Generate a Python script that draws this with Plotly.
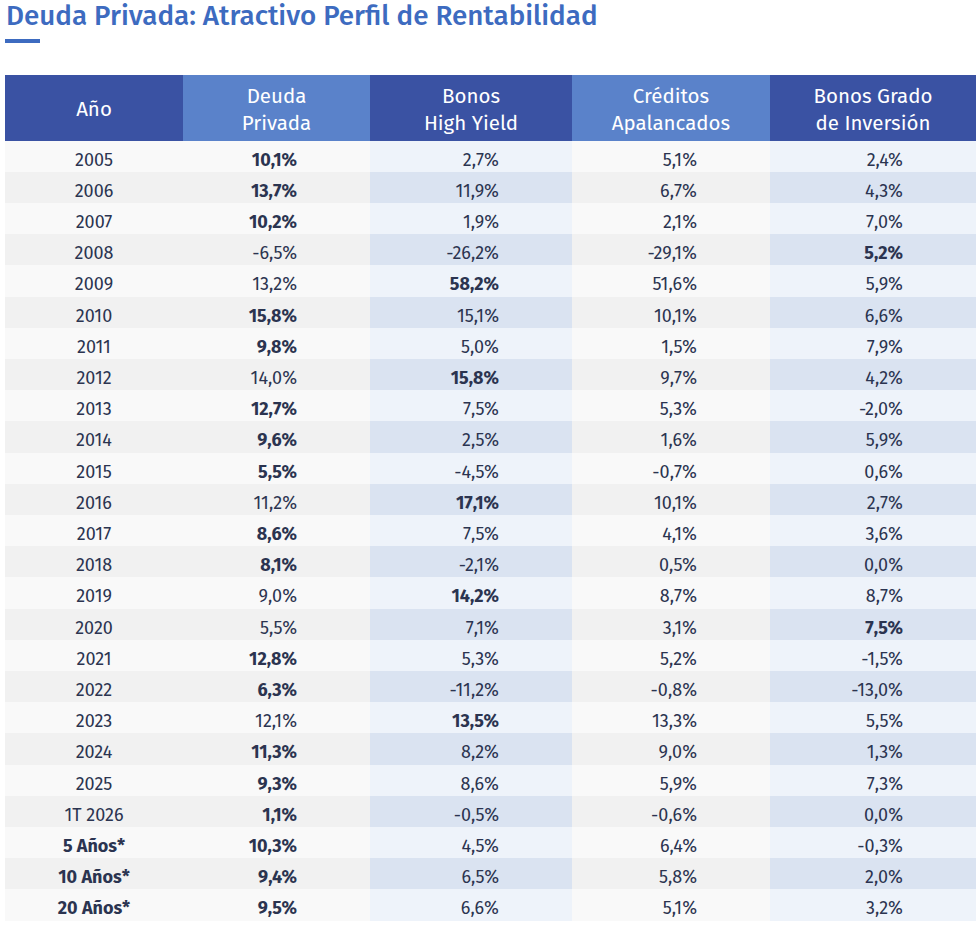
import plotly.graph_objects as go

# ---- data ----
years = ['2005', '2006', '2007', '2008', '2009', '2010', '2011', '2012', '2013',
         '2014', '2015', '2016', '2017', '2018', '2019', '2020', '2021', '2022',
         '2023', '2024', '2025', '1T 2026', '5 Años*', '10 Años*', '20 Años*']
deuda_privada = [10.1, 13.7, 10.2, -6.5, 13.2, 15.8, 9.8, 14.0, 12.7, 9.6, 5.5, 11.2,
                 8.6, 8.1, 9.0, 5.5, 12.8, 6.3, 12.1, 11.3, 9.3, 1.1, 10.3, 9.4, 9.5]
high_yield = [2.7, 11.9, 1.9, -26.2, 58.2, 15.1, 5.0, 15.8, 7.5, 2.5, -4.5, 17.1,
              7.5, -2.1, 14.2, 7.1, 5.3, -11.2, 13.5, 8.2, 8.6, -0.5, 4.5, 6.5, 6.6]
apalancados = [5.1, 6.7, 2.1, -29.1, 51.6, 10.1, 1.5, 9.7, 5.3, 1.6, -0.7, 10.1,
               4.1, 0.5, 8.7, 3.1, 5.2, -0.8, 13.3, 9.0, 5.9, -0.6, 6.4, 5.8, 5.1]
grado_inversion = [2.4, 4.3, 7.0, 5.2, 5.9, 6.6, 7.9, 4.2, -2.0, 5.9, 0.6, 2.7,
                   3.6, 0.0, 8.7, 7.5, -1.5, -13.0, 5.5, 1.3, 7.3, 0.0, -0.3, 2.0, 3.2]
headers = [['Año'], ['Deuda', 'Privada'], ['Bonos', 'High Yield'],
           ['Créditos', 'Apalancados'], ['Bonos Grado', 'de Inversión']]
title = 'Deuda Privada: Atractivo Perfil de Rentabilidad'

# ---- layout constants (pixels) ----
W, H = 980, 925
col_edges = [5, 183, 370, 572, 770, 976]
value_right = [297, 499, 697, 903]
header_top, header_bottom = 75, 140.5
row_h = 31.2
text_dy = 5          # text sits a little below the middle of its row
header_lines_y = [98, 125]
header_single_y = 110.5
blue_cols = [2, 4]
header_dark_cols = [0, 2, 4]

TEXT = '#2b3450'
COLORS = ['#f9f9f9', '#f1f1f1', '#eef3fa', '#dae3f1', '#3a52a3', '#5a82ca']
FONT = 'Fira Sans, Roboto'

n = len(years)
row_edges = [header_bottom + i * row_h for i in range(n + 1)]
row_text_y = [header_bottom + (i + 0.5) * row_h + text_dy for i in range(n)]
series = [deuda_privada, high_yield, apalancados, grado_inversion]

# background cell categories
z = []
z.append([4 if c in header_dark_cols else 5 for c in range(5)])
for i in range(n):
    z.append([(2 if c in blue_cols else 0) + (i % 2) for c in range(5)])

colorscale = []
for k, col in enumerate(COLORS):
    colorscale.append([k / len(COLORS), col])
    colorscale.append([(k + 1) / len(COLORS), col])


def fmt(v):
    return f'{v:.1f}%'.replace('.', ',')


fig = go.Figure()

fig.add_trace(go.Heatmap(
    x=col_edges,
    y=[header_top] + row_edges,
    z=z,
    zmin=-0.5, zmax=len(COLORS) - 0.5,
    colorscale=colorscale,
    showscale=False,
    hoverinfo='skip'
))

# header labels, one or two lines per column
hx, hy, ht = [], [], []
for c, lines in enumerate(headers):
    xc = (col_edges[c] + col_edges[c + 1]) / 2
    ys = [header_single_y] if len(lines) == 1 else header_lines_y
    for line, yy in zip(lines, ys):
        hx.append(xc)
        hy.append(yy)
        ht.append(line)
fig.add_trace(go.Scatter(
    x=hx, y=hy, text=ht,
    mode='text',
    textposition='middle center',
    textfont=dict(family=FONT, size=20.5, color='white', weight=400),
    hoverinfo='skip'
))

# year column (summary rows bold)
fig.add_trace(go.Scatter(
    x=[(col_edges[0] + col_edges[1]) / 2] * n,
    y=row_text_y,
    text=[f'<b>{y}</b>' if 'Años' in y else y for y in years],
    mode='text',
    textposition='middle center',
    textfont=dict(family=FONT, size=18, color=TEXT),
    hoverinfo='skip'
))

# value columns, row maximum in bold
for j, vals in enumerate(series):
    labels = []
    for i, v in enumerate(vals):
        row_max = max(s[i] for s in series)
        labels.append(f'<b>{fmt(v)}</b>' if v == row_max else fmt(v))
    fig.add_trace(go.Scatter(
        x=[value_right[j]] * n,
        y=row_text_y,
        text=labels,
        mode='text',
        textposition='middle left',
        textfont=dict(family=FONT, size=18, color=TEXT),
        hoverinfo='skip'
    ))

fig.add_annotation(
    x=4, y=15, xref='x', yref='y', text=title, showarrow=False,
    xanchor='left', yanchor='middle',
    font=dict(family=FONT, size=27.8, color='#3d6bc0', weight=500)
)
fig.add_shape(type='rect', x0=5, x1=40, y0=39, y1=43, xref='x', yref='y',
              fillcolor='#3d6bc0', line_width=0)

fig.update_layout(
    width=W, height=H,
    margin=dict(l=0, r=0, t=0, b=0),
    paper_bgcolor='white', plot_bgcolor='white',
    showlegend=False,
    xaxis=dict(range=[0, W], visible=False, fixedrange=True),
    yaxis=dict(range=[H, 0], visible=False, fixedrange=True),
)

# drop the default page margin so the figure sits at the window's corner
fig.write_html('out.html', config={'displayModeBar': False},
               post_script="document.body.style.margin='0';")
